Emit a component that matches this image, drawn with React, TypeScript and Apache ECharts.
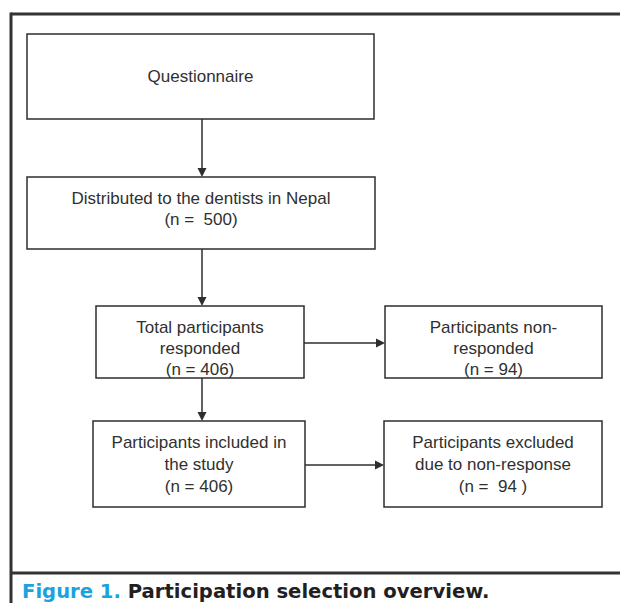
import React, { useEffect, useRef } from "react";
import * as echarts from "echarts";

// ---- content (texts / counts) ----
const boxTexts: string[][] = [
  ["Questionnaire"],
  ["Distributed to the dentists in Nepal", "(n =  500)"],
  ["Total participants", "responded", "(n = 406)"],
  ["Participants non-", "responded", "(n = 94)"],
  ["Participants included in", "the study", "(n = 406)"],
  ["Participants excluded", "due to non-response", "(n =  94 )"],
];
const captionLabel = "Figure 1.";
const captionTitle = "Participation selection overview.";

// ---- layout (positions only) ----
// [x, y, w, h, textCenterY, lineHeight]
const boxLayout: number[][] = [
  [27, 34, 347, 85, 76, 21],
  [27, 177, 348, 72, 209, 21],
  [96, 306, 208, 72, 348, 21],
  [385, 306, 217, 72, 348, 21],
  [93, 421, 212, 86, 464, 22],
  [384, 421, 218, 86, 464, 22],
];
// vertical arrows: [x, y1, y2]; horizontal arrows: [y, x1, x2]
const vArrows: number[][] = [
  [202, 119, 177],
  [202, 249, 306],
  [202, 378, 421],
];
const hArrows: number[][] = [
  [343, 304, 385],
  [465, 305, 384],
];

const INK = "#2e2e2e";
const TXT = "#303030";
const FONT = "Liberation Sans, Arial, sans-serif";
const CAPFONT = "DejaVu Sans, Liberation Sans, sans-serif";

export default function App() {
  const ref = useRef<HTMLDivElement>(null);
  useEffect(() => {
    document.body.style.margin = "0";
    if (!ref.current) return;
    const chart = echarts.init(ref.current, null, { renderer: "svg" });
    const elements: any[] = [];

    // frame
    elements.push({
      type: "line",
      shape: { x1: 11, y1: 14, x2: 620, y2: 14 },
      style: { stroke: "#333", lineWidth: 3 },
    });
    elements.push({
      type: "line",
      shape: { x1: 11, y1: 12.5, x2: 11, y2: 603 },
      style: { stroke: "#333", lineWidth: 3 },
    });
    elements.push({
      type: "line",
      shape: { x1: 11, y1: 573, x2: 620, y2: 573 },
      style: { stroke: "#333", lineWidth: 3 },
    });

    // boxes
    boxLayout.forEach((b, i) => {
      const [x, y, w, h, cy, lh] = b;
      elements.push({
        type: "rect",
        shape: { x, y, width: w, height: h },
        style: { fill: "#fff", stroke: INK, lineWidth: 1.5 },
      });
      elements.push({
        type: "text",
        style: {
          text: boxTexts[i].join("\n"),
          x: x + w / 2,
          y: cy,
          align: "center",
          verticalAlign: "middle",
          font: `17px ${FONT}`,
          lineHeight: lh,
          fill: TXT,
        },
      });
    });

    // arrows
    const head = 9;
    vArrows.forEach(([x, y1, y2]) => {
      elements.push({
        type: "line",
        shape: { x1: x, y1, x2: x, y2: y2 - head },
        style: { stroke: INK, lineWidth: 1.5 },
      });
      elements.push({
        type: "polygon",
        shape: { points: [[x - 4.5, y2 - head], [x + 4.5, y2 - head], [x, y2]] },
        style: { fill: INK },
      });
    });
    hArrows.forEach(([y, x1, x2]) => {
      elements.push({
        type: "line",
        shape: { x1, y1: y, x2: x2 - head, y2: y },
        style: { stroke: INK, lineWidth: 1.5 },
      });
      elements.push({
        type: "polygon",
        shape: { points: [[x2 - head, y - 4.5], [x2 - head, y + 4.5], [x2, y]] },
        style: { fill: INK },
      });
    });

    // caption
    elements.push({
      type: "text",
      style: {
        text: `{a|${captionLabel}} {b|${captionTitle}}`,
        x: 22,
        y: 591,
        align: "left",
        verticalAlign: "middle",
        rich: {
          a: { font: `bold 19.6px ${CAPFONT}`, fill: "#1aa3de" },
          b: { font: `bold 19.6px ${CAPFONT}`, fill: "#231f20" },
        },
        font: `bold 19.6px ${CAPFONT}`,
      },
    });

    chart.setOption({
      animation: false,
      backgroundColor: "#ffffff",
      graphic: { elements },
    });
    return () => chart.dispose();
  }, []);
  return <div ref={ref} style={{ width: 620, height: 603 }} />;
}
